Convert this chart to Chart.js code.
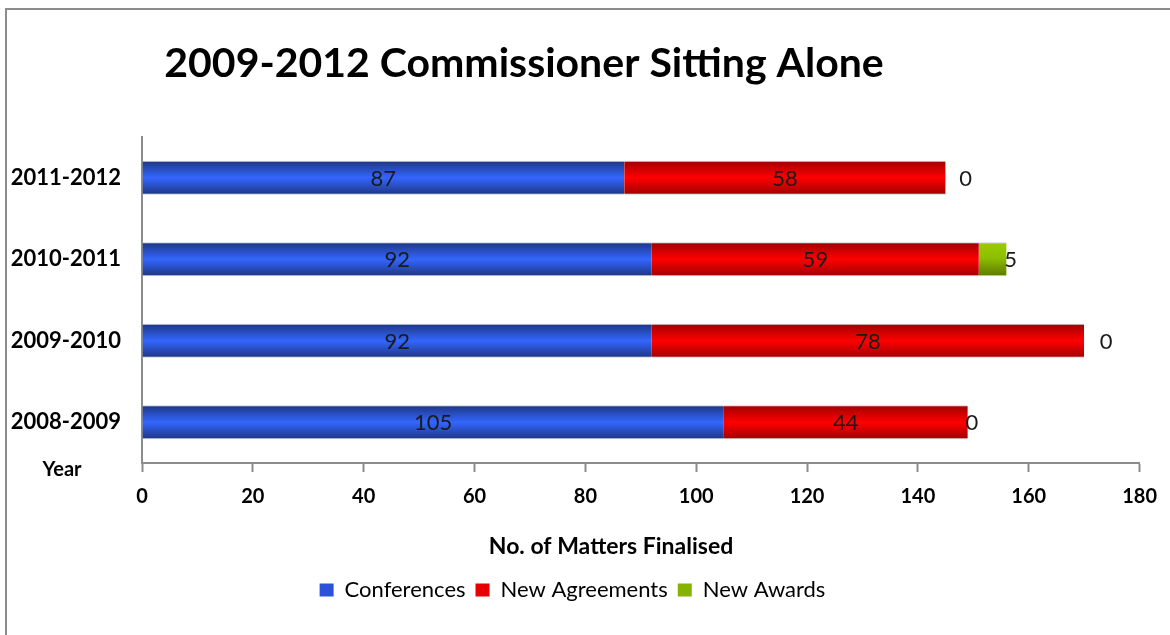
<!DOCTYPE html>
<html>
<head>
<meta charset="utf-8">
<title>2009-2012 Commissioner Sitting Alone</title>
<script src="https://cdn.jsdelivr.net/npm/chart.js@4.4.1/dist/chart.umd.min.js"></script>
<style>
  html, body { margin: 0; padding: 0; background: #fff; }
  #wrap { position: relative; width: 1170px; height: 635px; }
  #frame { position: absolute; left: 5px; top: 8px; right: -10px; bottom: -10px;
           border-left: 2px solid #8c8c8c; border-top: 2px solid #8c8c8c; }
</style>
</head>
<body>
<div id="wrap">
  <div id="frame"></div>
  <canvas id="chart" width="1170" height="635"></canvas>
</div>
<script>
// ─── data ───────────────────────────────────────
const years       = ['2011-2012', '2010-2011', '2009-2010', '2008-2009'];
const conferences = [87, 92, 92, 105];
const agreements  = [58, 59, 78, 44];
const awards      = [0, 5, 0, 0];
const xTicks      = [0, 20, 40, 60, 80, 100, 120, 140, 160, 180];

const FONT = 'Lato, "Open Sans", sans-serif';
const BAR_PCT = 0.42;
// how far the New Awards labels sit past the end of each bar
const AWARD_NUDGE = [20, 4, 22, 4];

// vertical shading across each bar (dark edge, bright middle, dark edge)
function shade(stops, flat) {
  return ctx => {
    const ys = ctx.chart.scales.y;
    if (!ys || ctx.dataIndex == null) return flat;
    const y = ys.getPixelForValue(ctx.dataIndex);
    const h = ys.height / years.length * BAR_PCT;
    const g = ctx.chart.ctx.createLinearGradient(0, y - h / 2, 0, y + h / 2);
    stops.forEach(([at, c]) => g.addColorStop(at, c));
    return g;
  };
}

const BLUE  = shade([[0, '#1d3580'], [0.5, '#3366ff'], [1, '#1d3580']], '#2c55e0');
const RED   = shade([[0, '#9e0000'], [0.5, '#ff0000'], [1, '#9e0000']], '#e00000');
const GREEN = shade([[0, '#9acb00'], [0.45, '#8fc000'], [1, '#5c7800']], '#8ab800');

const LEGEND_COLORS = ['#2b52d8', '#e80000', '#86b300'];

// labels in the bars, overlay titles
const overlay = {
  id: 'overlay',
  afterDatasetsDraw(chart) {
    const c = chart.ctx;
    c.save();
    c.fillStyle = '#1a1a1a';
    c.font = `22px ${FONT}`;
    c.textBaseline = 'middle';
    c.textAlign = 'center';
    chart.data.datasets.forEach((ds, di) => {
      chart.getDatasetMeta(di).data.forEach((el, i) => {
        const v = ds.data[i];
        if (di < 2) {
          c.fillText(String(v), (el.base + el.x) / 2, el.y + 1);
        } else {
          c.fillText(String(v), el.x + AWARD_NUDGE[i], el.y + 1);
        }
      });
    });
    c.restore();
  },
  afterDraw(chart) {
    const c = chart.ctx;
    c.save();
    c.fillStyle = '#000';
    c.textAlign = 'center';
    c.textBaseline = 'alphabetic';
    c.font = `bold 41px ${FONT}`;
    c.fillText('2009-2012 Commissioner Sitting Alone', 524, 77);
    c.font = `bold 23px ${FONT}`;
    c.fillText('No. of Matters Finalised', 611, 554);
    c.font = `bold 20px ${FONT}`;
    c.fillText('Year', 62, 476);
    c.restore();
  },
};

const ctx = document.getElementById('chart').getContext('2d');
new Chart(ctx, {
  type: 'bar',
  data: {
    labels: years,
    datasets: [
      { label: 'Conferences',    data: conferences, backgroundColor: BLUE },
      { label: 'New Agreements', data: agreements,  backgroundColor: RED },
      { label: 'New Awards',     data: awards,      backgroundColor: GREEN },
    ],
  },
  options: {
    indexAxis: 'y',
    responsive: false,
    animation: false,
    devicePixelRatio: 1,
    barPercentage: BAR_PCT,
    categoryPercentage: 1,
    borderWidth: { top: 1, bottom: 1, left: 0, right: 0 },
    borderColor: 'rgba(200,200,215,0.9)',
    layout: { padding: { top: 137, left: 5, right: 30, bottom: 24 } },
    scales: {
      x: {
        stacked: true,
        min: 0, max: 180,
        afterBuildTicks: s => { s.ticks = xTicks.map(v => ({ value: v })); },
        afterFit: s => { s.height = 106; },
        border: { display: true, color: '#8c8c8c', width: 2 },
        grid: { display: true, drawOnChartArea: false, drawTicks: true,
                tickLength: 9, tickWidth: 2, tickColor: '#8c8c8c' },
        ticks: { color: '#000', padding: 13, maxRotation: 0,
                 font: { family: FONT, size: 20, weight: 'bold' } },
      },
      y: {
        stacked: true,
        afterFit: s => { s.width = 137; },
        border: { display: true, color: '#8c8c8c', width: 2 },
        grid: { display: false },
        ticks: { color: '#000', padding: 13,
                 font: { family: FONT, size: 22, weight: 'bold' } },
      },
    },
    plugins: {
      title: { display: false },
      tooltip: { enabled: false },
      legend: {
        position: 'bottom',
        labels: {
          color: '#000',
          boxWidth: 14, boxHeight: 13, padding: 10,
          font: { family: FONT, size: 22 },
          generateLabels: chart => chart.data.datasets.map((ds, i) => ({
            text: ds.label,
            fillStyle: LEGEND_COLORS[i],
            strokeStyle: LEGEND_COLORS[i],
            lineWidth: 0,
            datasetIndex: i,
            fontColor: '#000',
          })),
        },
      },
    },
  },
  plugins: [overlay],
});
</script>
</body>
</html>
